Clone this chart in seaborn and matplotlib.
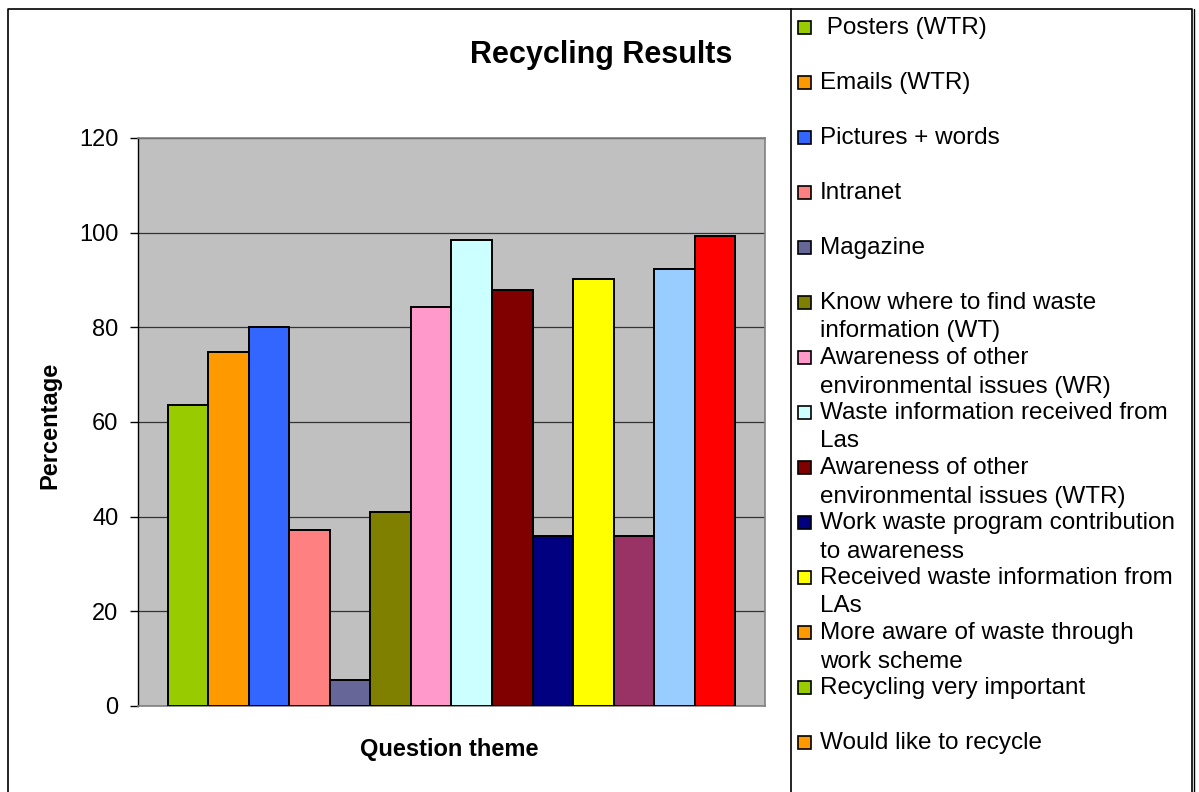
import numpy as np
import pandas as pd
import seaborn as sns
import matplotlib.pyplot as plt
from matplotlib.patches import Rectangle
from matplotlib.lines import Line2D

sns.set_style("white")
plt.rcParams["font.family"] = ["Liberation Sans", "DejaVu Sans"]
plt.rcParams["text.color"] = "black"
plt.rcParams["axes.labelcolor"] = "black"
plt.rcParams["ytick.color"] = "black"
plt.rcParams["xtick.color"] = "black"

# question themes (legend text, with its line breaks) and their percentages
temas = [" Posters (WTR)", "Emails (WTR)", "Pictures + words", "Intranet", "Magazine",
         "Know where to find waste\ninformation (WT)",
         "Awareness of other\nenvironmental issues (WR)",
         "Waste information received from\nLas",
         "Awareness of other\nenvironmental issues (WTR)",
         "Work waste program contribution\nto awareness",
         "Received waste information from\nLAs",
         "More aware of waste through\nwork scheme",
         "Recycling very important",
         "Would like to recycle"]
valores = [63.6, 74.7, 80.0, 37.1, 5.4, 40.9, 84.4, 98.5, 87.8, 36.0, 90.2, 36.0, 92.3, 99.4]
y_ticks = [0, 20, 40, 60, 80, 100, 120]

cores_barras = ["#99CC00", "#FF9900", "#3366FF", "#FF8080", "#666699", "#808000", "#FF99CC",
                "#CCFFFF", "#800000", "#000080", "#FFFF00", "#993366", "#99CCFF", "#FF0000"]
# the legend keys in the original do not all match the bars
cores_legenda = cores_barras[:11] + ["#FF9900", "#99CC00", "#FF9900"]

tabela = pd.DataFrame({"tema": temas, "valor": valores})

W, H = 1199, 792
fig = plt.figure(figsize=(W / 100, H / 100), dpi=100)
ax = fig.add_axes([138 / W, 1 - 706 / H, (765 - 138) / W, (706 - 138) / H])
ax.set_facecolor("#C0C0C0")

sns.barplot(data=tabela, x="tema", y="valor", hue="tema", palette=cores_barras,
            saturation=1, width=1.0, edgecolor="black", linewidth=1.4, legend=False,
            ax=ax, zorder=3)

ax.set_ylim(0, 120)
ax.set_xlim(-1.24, 14.24)
ax.set_yticks(y_ticks)
ax.yaxis.grid(True, color="#333333", linewidth=0.9, zorder=1)
ax.set_axisbelow(True)
ax.tick_params(axis="y", left=True, direction="out", length=6, width=1, color="black",
               labelsize=17, pad=8)
ax.tick_params(axis="x", bottom=False, labelbottom=False)
ax.set_xlabel("")
ax.set_ylabel("")
for s in ["top", "right", "bottom"]:
    ax.spines[s].set_color("#808080")
    ax.spines[s].set_linewidth(1.2)
ax.spines["left"].set_color("black")
ax.spines["left"].set_linewidth(1.0)

fig.text(601 / W, 1 - 63 / H, "Recycling Results", ha="center", va="baseline",
         fontsize=22, fontweight="bold")
fig.text(449 / W, 1 - 756 / H, "Question theme", ha="center", va="baseline",
         fontsize=17, fontweight="bold")
fig.text(50 / W, 1 - 425 / H, "Percentage", ha="center", va="center", rotation=90,
         fontsize=17, fontweight="bold")

# legend column, drawn by hand to keep Excel's spacing
for i, (rotulo, cor) in enumerate(zip(temas, cores_legenda)):
    base = 34 + 55 * i
    fig.patches.append(Rectangle((798 / W, 1 - base / H), 13 / W, 13 / H,
                                 transform=fig.transFigure, facecolor=cor,
                                 edgecolor="black", linewidth=1.2))
    for k, linha in enumerate(rotulo.split("\n")):
        fig.text(820 / W, 1 - (base + 28.5 * k) / H, linha, ha="left", va="baseline",
                 fontsize=17.5)

# outer frame and legend divider
fig.lines.append(Line2D([7.5 / W, 7.5 / W, 1191.5 / W, 1191.5 / W],
                        [0, 1 - 8.5 / H, 1 - 8.5 / H, 0],
                        transform=fig.transFigure, color="black", linewidth=1.2))
fig.lines.append(Line2D([1194 / W, 1194 / W], [0, 1 - 8.5 / H],
                        transform=fig.transFigure, color="black", linewidth=1.0))
fig.lines.append(Line2D([790.5 / W, 790.5 / W], [0, 1 - 8.5 / H],
                        transform=fig.transFigure, color="black", linewidth=1.2))

fig.savefig("out.png", dpi=100)
